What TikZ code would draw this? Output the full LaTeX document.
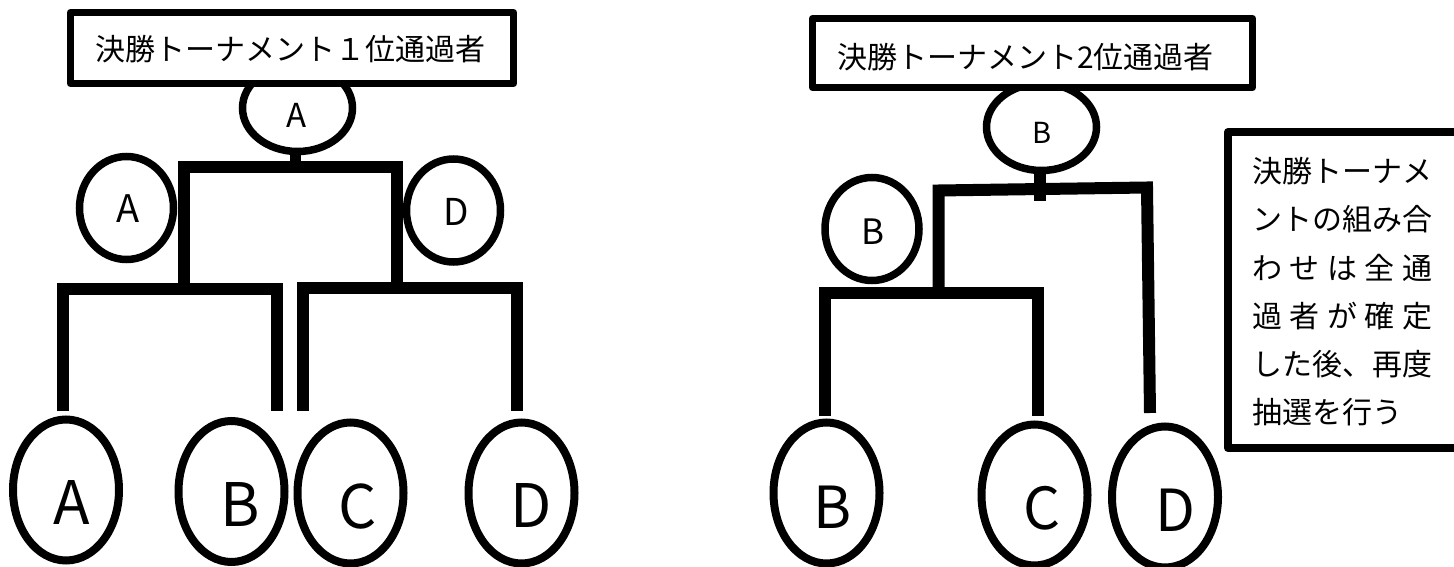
\documentclass[tikz,border=0pt]{standalone}
\usepackage{fontspec}
\setmainfont{Noto Sans CJK JP}
\usetikzlibrary{shapes.geometric,calc}
\begin{document}
\begin{tikzpicture}[x=1pt,y=-1pt,
  boxstyle/.style={rectangle, draw, fill=white, line width=7pt, line join=round, inner sep=0pt},
  bracket/.style={line width=12pt, line join=miter},
  stem/.style={line width=11pt},
  topell/.style={ellipse, draw, line width=7.5pt, minimum width=110pt, minimum height=87pt, inner sep=0pt},
  midell/.style={ellipse, draw, line width=7.5pt, minimum width=94pt, minimum height=103pt, inner sep=0pt},
  botell/.style={ellipse, draw, line width=8pt, minimum width=106pt, minimum height=141pt, inner sep=0pt},
  lbl/.style={inner sep=0pt, font=\fontsize{#1}{#1}\selectfont},
  jp/.style={inner sep=0pt, font=\fontsize{30}{30}\selectfont},
]
\fill[white] (0,0) rectangle (1454,567);
\useasboundingbox (0,0) rectangle (1454,567);

% ---------------- left tree ----------------
\node[topell] (L0) at (297.5,108) {};
\node[lbl=33] (L0t) at (297,115) {A};
\node[boxstyle, minimum width=443pt, minimum height=71pt] (box1) at (292,48) {};
\node[jp] (box1t) at (290.5,49) {決勝トーナメント１位通過者};

\coordinate (L0s) at ($(L0.south)+(-2,0)$);
\draw[stem] (L0s) -- ++(0,16);
\draw[bracket] (183.5,289) -- (183.5,167.5) -- (397,167.5) -- (397,289);

\node[midell] (LA) at (126.5,208) {};
\node[lbl=38] (LAt) at (128.5,209) {A};
\node[midell] (LD) at (453.5,210.5) {};
\node[lbl=37] (LDt) at (456.5,212) {D};

\draw[bracket] (63,411) -- (63,289) -- (277,289) -- (277,411);
\draw[bracket] (303,411) -- (303,288) -- (517,288) -- (517,411);

\node[botell] (bA) at (66,490) {};
\node[lbl=60] (bAt) at (72,503) {A};
\node[botell] (bB) at (231.5,491.5) {};
\node[lbl=60] (bBt) at (240,505) {B};
\node[botell] (bC) at (350.5,493) {};
\node[lbl=60] (bCt) at (358,507) {C};
\node[botell] (bD) at (521.5,493) {};
\node[lbl=60] (bDt) at (531,505.5) {D};

% ---------------- right tree ----------------
\node[topell] (R0) at (1041.5,127) {};
\node[lbl=29] (R0t) at (1042,133) {B};
\node[boxstyle, minimum width=440pt, minimum height=69pt] (box2) at (1032.5,53) {};
\node[jp] (box2t) at (1025.5,57) {決勝トーナメント2位通過者};

\coordinate (R0s) at ($(R0.south)+(-1.5,0)$);
\draw[stem, line width=12pt] (R0s) -- ++(0,26.5);
\draw[bracket] (938.5,298) -- (938.5,190.5) -- (1147,187.5) -- (1150,413);

\node[midell] (RB) at (872,229) {};
\node[lbl=35] (RBt) at (873,232) {B};

\draw[bracket] (825,416) -- (825,292.5) -- (1038,292.5) -- (1038,416);

\node[botell] (rB) at (826.5,493) {};
\node[lbl=58] (rBt) at (833,507) {B};
\node[botell] (rC) at (1034.5,495) {};
\node[lbl=58] (rCt) at (1042,508) {C};
\node[botell] (rD) at (1165,497) {};
\node[lbl=58] (rDt) at (1175,510) {D};

% ---------------- note ----------------
\node[rectangle, draw, line width=8pt, line join=round, inner sep=0pt, minimum width=260pt, minimum height=316pt] (note) at (1358,290) {};
\node[jp, anchor=west] (n1) at (1252,171) {決勝トーナメ};
\node[jp, anchor=west] (n2) at (1252,219) {ントの組み合};
\node[jp, anchor=west] (n3) at (1252,268) {\hbox to 180pt{わ\hfil せ\hfil は\hfil 全\hfil 通}};
\node[jp, anchor=west] (n4) at (1252,316) {\hbox to 180pt{過\hfil 者\hfil が\hfil 確\hfil 定}};
\node[jp, anchor=west] (n5) at (1252,364) {した後、再度};
\node[jp, anchor=west] (n6) at (1252,412) {抽選を行う};
\end{tikzpicture}
\end{document}
